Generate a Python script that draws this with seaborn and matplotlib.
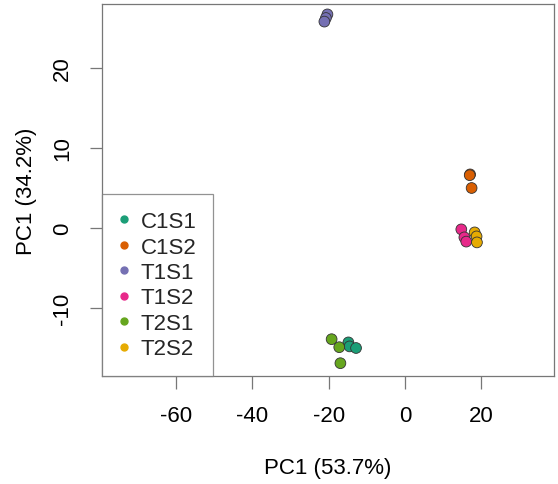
import matplotlib
matplotlib.use("Agg")
import matplotlib.pyplot as plt
import pandas as pd
import seaborn as sns
from matplotlib.lines import Line2D

groups = ["C1S1", "C1S2", "T1S1", "T1S2", "T2S1", "T2S2"]
colors = ["#1B9E77", "#D95F02", "#7570B3", "#E7298A", "#66A61E", "#E6AB02"]

c1s1_x = [-14.8, -14.5, -12.8]
c1s1_y = [-14.3, -14.8, -15.0]
c1s2_x = [17.1, 17.0, 17.5]
c1s2_y = [6.7, 6.6, 5.0]
t1s1_x = [-20.3, -20.7, -21.1]
t1s1_y = [26.7, 26.25, 25.8]
t1s2_x = [14.8, 15.6, 16.1]
t1s2_y = [-0.17, -1.17, -1.7]
t2s1_x = [-19.2, -17.2, -16.9]
t2s1_y = [-13.9, -14.9, -16.9]
t2s2_x = [18.3, 18.8, 18.9]
t2s2_y = [-0.55, -1.05, -1.8]

xs = [c1s1_x, c1s2_x, t1s1_x, t1s2_x, t2s1_x, t2s2_x]
ys = [c1s1_y, c1s2_y, t1s1_y, t1s2_y, t2s1_y, t2s2_y]

rows = []
for g, gx, gy in zip(groups, xs, ys):
    for a, b in zip(gx, gy):
        rows.append({"group": g, "pc1": a, "pc2": b})
df = pd.DataFrame(rows)

sns.set_theme(style="white")
plt.rcParams["font.family"] = ["Liberation Sans", "DejaVu Sans"]
plt.rcParams["axes.unicode_minus"] = False

fig = plt.figure(figsize=(5.58, 4.85), dpi=100)
ax = fig.add_axes([102 / 558, 1 - 377 / 485, 452 / 558, 372 / 485])

sns.scatterplot(data=df, x="pc1", y="pc2", hue="group", hue_order=groups,
                palette=colors, s=60, edgecolor="#333333", linewidth=0.6,
                legend=False, ax=ax)

ax.set_xlim(-79.4, 39.1)
ax.set_ylim(-18.5, 28)
ax.set_xticks([-60, -40, -20, 0, 20])
ax.set_yticks([-10, 0, 10, 20])
ax.set_yticklabels(["-10", "0", "10", "20"], rotation=90, va="center")
ax.tick_params(axis="both", direction="out", length=9, width=0.9,
               color="#777777", labelsize=16, labelcolor="black",
               bottom=True, left=True)
ax.tick_params(axis="x", pad=12)
ax.tick_params(axis="y", pad=12)
for sp in ax.spines.values():
    sp.set_color("#777777")
    sp.set_linewidth(0.9)

ax.set_xlabel("PC1 (53.7%)", fontsize=16, labelpad=22, color="black")
ax.set_ylabel("PC1 (34.2%)", fontsize=16, labelpad=11, color="black")

handles = [Line2D([0], [0], marker="o", linestyle="none", markersize=5,
                  markerfacecolor=c, markeredgecolor=c) for c in colors]
leg = ax.legend(handles, groups, loc="lower left", bbox_to_anchor=(0, 0),
                borderaxespad=0, fancybox=False, fontsize=16,
                handletextpad=0.55, labelspacing=0.2, borderpad=0.75,
                handlelength=0.45)
leg.get_frame().set_edgecolor("#777777")
leg.get_frame().set_linewidth(0.9)

fig.savefig("out.png", dpi=100)
